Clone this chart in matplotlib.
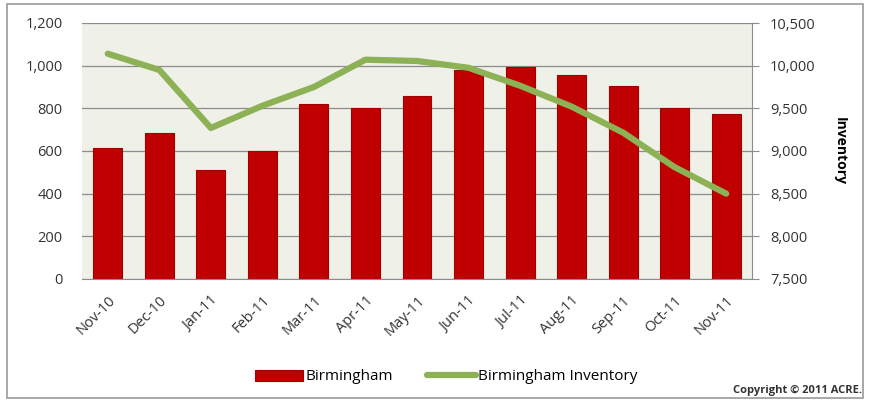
import matplotlib.pyplot as plt
import numpy as np
from matplotlib.patches import Rectangle

# Monthly sales (bars) and inventory (line) - Birmingham
months = ['Nov-10', 'Dec-10', 'Jan-11', 'Feb-11', 'Mar-11', 'Apr-11', 'May-11',
          'Jun-11', 'Jul-11', 'Aug-11', 'Sep-11', 'Oct-11', 'Nov-11']
sales = [615, 685, 510, 598, 820, 800, 860, 980, 995, 957, 905, 800, 775]
inventory = [10140, 9950, 9270, 9530, 9750, 10070, 10055, 9975, 9765, 9520, 9215, 8810, 8500]

left_ticks = [0, 200, 400, 600, 800, 1000, 1200]
right_ticks = [7500, 8000, 8500, 9000, 9500, 10000, 10500]

plt.rcParams['font.family'] = ['Open Sans', 'DejaVu Sans']

fig = plt.figure(figsize=(8.71, 4.04), dpi=100)
ax = fig.add_axes([82/871, 1 - 279/404, (752-82)/871, (279-23)/404])
ax.set_facecolor('#EFF0E8')

x = np.arange(len(months))
bars = ax.bar(x, sales, width=0.56, color='#C00000', edgecolor='#A00000', linewidth=0.8,
              label='Birmingham', zorder=2)
ax.set_ylim(0, 1200)
ax.set_xlim(-0.5, len(months) - 0.5)
ax.set_yticks(left_ticks)
ax.set_yticklabels(['{:,}'.format(v) for v in left_ticks], fontsize=10.5, color='#333333')
ax.yaxis.grid(True, color='#8C8C8C', linewidth=0.9, zorder=0)
ax.set_axisbelow(True)
ax.tick_params(axis='y', length=0, pad=14)
ax.set_xticks(x)
ax.set_xticklabels(months, rotation=45, ha='right', rotation_mode='anchor',
                   fontsize=10.5, color='#333333')
ax.tick_params(axis='x', length=0, pad=10)
for s in ['top', 'left', 'right']:
    ax.spines[s].set_visible(False)
ax.spines['bottom'].set_color('#8C8C8C')

ax2 = ax.twinx()
line, = ax2.plot(x, inventory, color='#8DB255', linewidth=4.5, solid_capstyle='round',
                 label='Birmingham Inventory', zorder=3)
ax2.set_ylim(7500, 10500)
ax2.set_yticks(right_ticks)
ax2.set_yticklabels(['{:,}'.format(v) for v in right_ticks], fontsize=10.5, color='#333333')
ax2.tick_params(axis='y', length=5, color='#8C8C8C', pad=8)
for s in ['top', 'left', 'bottom']:
    ax2.spines[s].set_visible(False)
ax2.spines['right'].set_color('#8C8C8C')
ax2.set_ylabel('Inventory', rotation=-90, fontsize=10, fontweight='bold', labelpad=22)

fig.legend([bars, line], ['Birmingham', 'Birmingham Inventory'], loc='center',
           bbox_to_anchor=(446/871, 1 - 377/404), ncol=2, frameon=False, fontsize=11,
           handlelength=3.2, handletextpad=0.15, columnspacing=2.2)

fig.text(862/871, 1 - 390/404, 'Copyright \u00a9 2011 ACRE.', ha='right', va='center',
         fontsize=8, fontweight='bold', color='#333333')

fig.patches.append(Rectangle((7/871, 1 - 398/404), (863-7)/871, (398-4)/404,
                             transform=fig.transFigure, fill=False,
                             edgecolor='#9A9A9A', linewidth=1.2))

fig.savefig('out.png', dpi=100)
